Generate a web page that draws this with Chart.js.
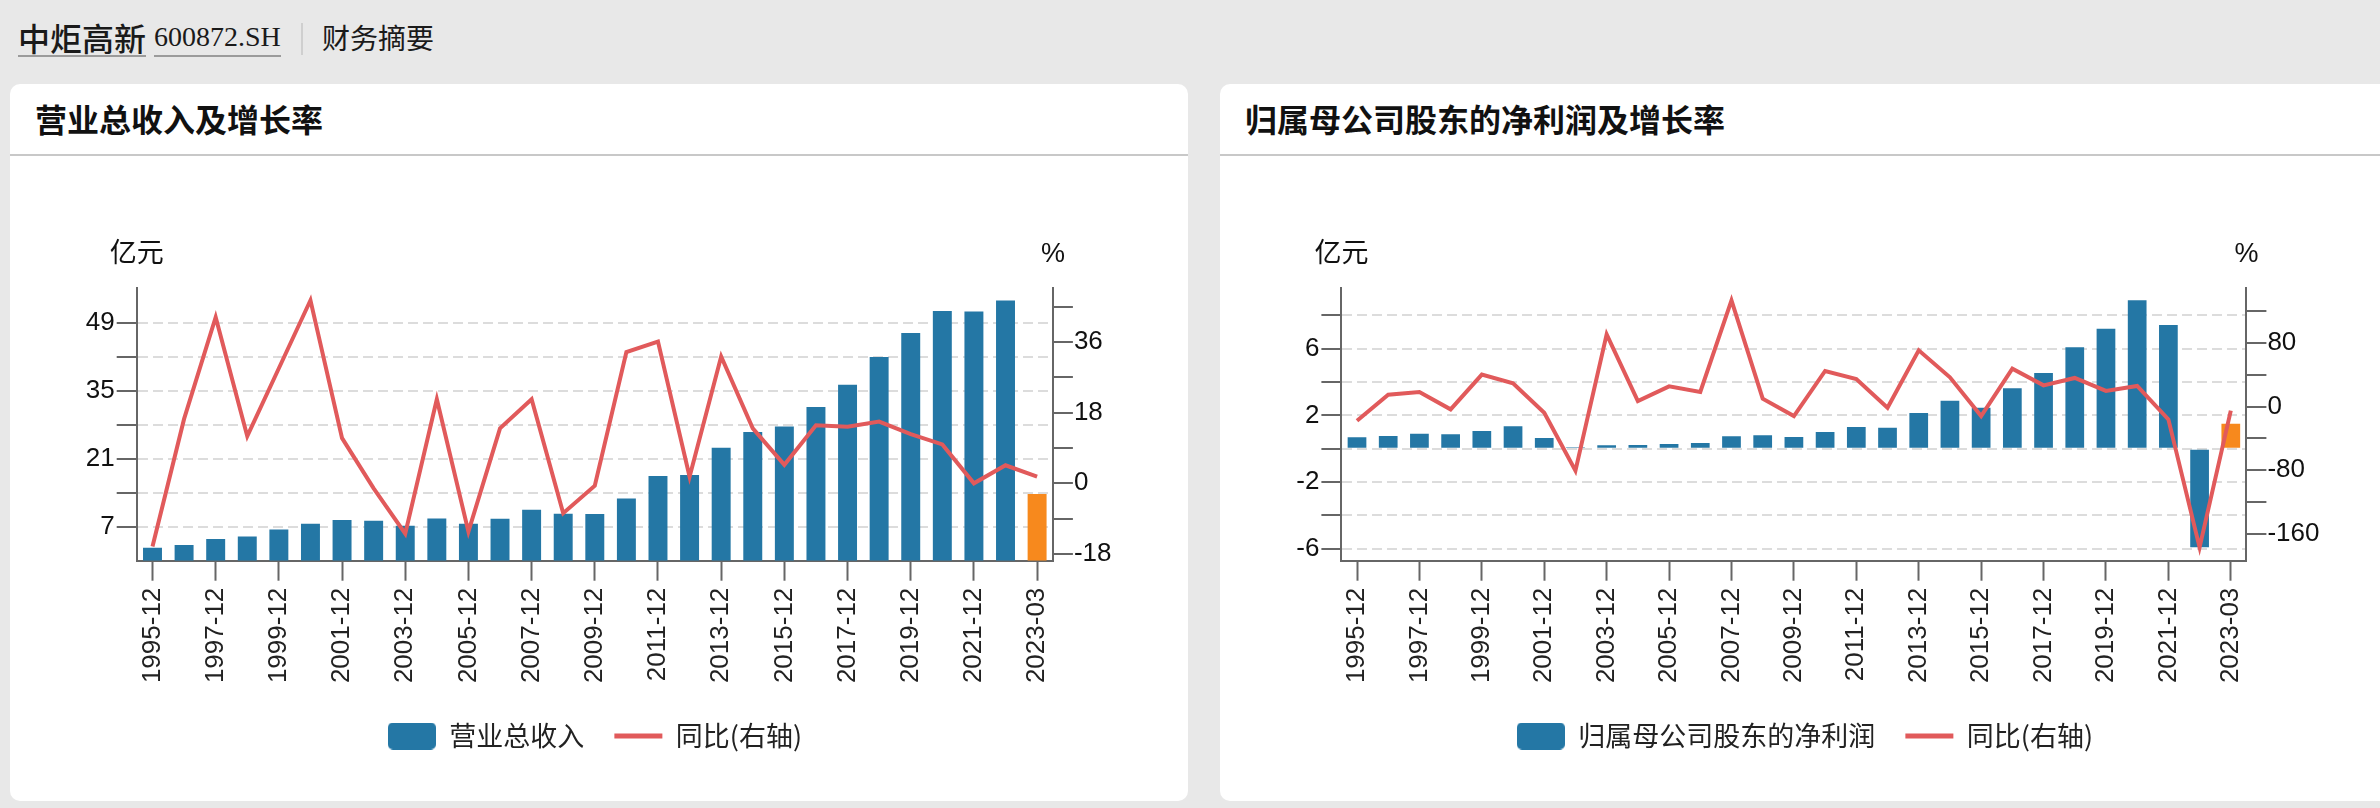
<!DOCTYPE html>
<html lang="zh-CN">
<head>
<meta charset="utf-8">
<title>中炬高新 财务摘要</title>
<script src="https://cdn.jsdelivr.net/npm/chart.js@4.4.1/dist/chart.umd.min.js"></script>
<style>
  html, body { margin: 0; padding: 0; }
  body {
    width: 2380px; height: 808px; overflow: hidden; position: relative;
    background: #e8e8e8; color: #1a1a1a;
    font-family: "Noto Sans CJK SC", "Liberation Sans", sans-serif;
  }
  .hd { position: absolute; top: 19px; height: 36px; line-height: 36px; white-space: nowrap; }
  .name { left: 18px; font-size: 32px; font-weight: 500; border-bottom: 2px solid #9b9b9b; }
  .code { left: 154px; font-size: 28px; font-family: "Liberation Serif", serif; border-bottom: 2px solid #9b9b9b; }
  .sep { position: absolute; left: 301px; top: 23px; width: 2px; height: 32px; background: #cfcfcf; }
  .sub { left: 322px; font-size: 28px; }
  .card { position: absolute; top: 84px; width: 1178px; height: 717px; background: #fff; border-radius: 10px; overflow: hidden; }
  .card h2 { margin: 0; height: 70px; line-height: 68px; padding-left: 25px; font-size: 32px; font-weight: bold; color: #111; border-bottom: 2px solid #c8c8c8; }
  .card canvas { display: block; }
</style>
</head>
<body>
<span class="hd name">中炬高新</span>
<span class="hd code">600872.SH</span>
<div class="sep"></div>
<span class="hd sub">财务摘要</span>

<div class="card" style="left:10px">
  <h2>营业总收入及增长率</h2>
  <canvas id="revenueChart" width="1178" height="645"></canvas>
</div>
<div class="card" style="left:1220px">
  <h2>归属母公司股东的净利润及增长率</h2>
  <canvas id="profitChart" width="1178" height="645"></canvas>
</div>

<script>
const categories = [
  '1995-12', '1996-12', '1997-12', '1998-12', '1999-12', '2000-12', '2001-12', '2002-12',
  '2003-12', '2004-12', '2005-12', '2006-12', '2007-12', '2008-12', '2009-12', '2010-12',
  '2011-12', '2012-12', '2013-12', '2014-12', '2015-12', '2016-12', '2017-12', '2018-12',
  '2019-12', '2020-12', '2021-12', '2022-12', '2023-03'
];

// 营业总收入, 亿元
const revenue = [
  2.67, 3.22, 4.45, 5.0, 6.45, 7.62, 8.37, 8.23, 7.2, 8.72, 7.62, 8.65, 10.5, 9.68, 9.61,
  12.84, 17.45, 17.65, 23.29, 26.52, 27.69, 31.68, 36.28, 41.99, 46.94, 51.47, 51.4, 53.67, 13.73
];
// 同比, %
const revenueYoY = [
  -16.1, 16.4, 42.3, 12.0, 29.3, 46.6, 11.5, -1.3, -12.8, 21.4, -12.3, 14.0, 21.4, -7.6, -0.6,
  33.4, 36.1, 1.7, 32.3, 14.0, 4.7, 14.8, 14.4, 15.7, 12.5, 9.9, 0.0, 4.6, 1.7
];

// 归属母公司股东的净利润, 亿元
const profit = [
  0.68, 0.76, 0.90, 0.86, 1.06, 1.34, 0.64, 0.08, 0.20, 0.22, 0.28, 0.34, 0.74, 0.80, 0.70,
  1.0, 1.30, 1.26, 2.14, 2.88, 2.46, 3.62, 4.54, 6.08, 7.20, 8.90, 7.42, -5.92, 1.50
];
const profitYoY = [
  -17.7, 15.1, 18.5, -3.4, 40.4, 29.4, -7.6, -80.7, 91.2, 7.1, 25.6, 18.5, 134.1, 10.1, -11.8,
  45.0, 34.9, -1.3, 71.0, 37.0, -11.8, 47.9, 26.9, 36.2, 19.8, 26.1, -16.0, -177.4, -5.0
];

const BLUE = '#2477a5';
const ORANGE = '#f7891d';
const RED = '#e15a5b';
const AXIS = '#666';

Chart.defaults.font.family = '"Liberation Sans", "Noto Sans CJK SC", sans-serif';
Chart.defaults.font.size = 26;
Chart.defaults.color = '#111';

// rounded swatch for the bar legend entry
const swatch = document.createElement('canvas');
swatch.width = 48; swatch.height = 27;
(function () {
  const c = swatch.getContext('2d');
  c.fillStyle = BLUE;
  c.beginPath();
  c.roundRect(0, 0, 48, 27, 5);
  c.fill();
})();

// 亿元 / % over the two value axes
const unitLabels = {
  id: 'unitLabels',
  afterDraw(chart) {
    const { ctx, chartArea, scales } = chart;
    ctx.save();
    ctx.font = '27px "Liberation Sans", "Noto Sans CJK SC", sans-serif';
    ctx.fillStyle = '#111';
    ctx.textAlign = 'center';
    ctx.textBaseline = 'middle';
    ctx.fillText('亿元', scales.y.right, chartArea.top - 33);
    ctx.fillText('%', scales.y2.left, chartArea.top - 33);
    ctx.restore();
  }
};

function makeChart(id, o) {
  const ctx = document.getElementById(id).getContext('2d');
  return new Chart(ctx, {
    type: 'bar',
    data: {
      labels: categories,
      datasets: [
        {
          label: o.barLabel,
          data: o.bars,
          yAxisID: 'y',
          backgroundColor: o.bars.map((v, i) => i === o.bars.length - 1 ? ORANGE : BLUE),
          barPercentage: 0.6,
          categoryPercentage: 1,
          order: 2
        },
        {
          type: 'line',
          label: '同比(右轴)',
          data: o.line,
          yAxisID: 'y2',
          borderColor: RED,
          backgroundColor: RED,
          borderWidth: 4,
          pointRadius: 0,
          pointHoverRadius: 0,
          tension: 0,
          fill: false,
          order: 1
        }
      ]
    },
    options: {
      responsive: false,
      animation: false,
      events: [],
      layout: { padding: { top: 131.7, right: 8, bottom: 41.5, left: 0 } },
      plugins: {
        tooltip: { enabled: false },
        legend: {
          position: 'bottom',
          labels: {
            usePointStyle: true,
            pointStyleWidth: 48,
            boxHeight: 27,
            padding: 30,
            color: '#222',
            font: { size: 27, family: '"Noto Sans CJK SC", "Liberation Sans", sans-serif' },
            generateLabels: chart => {
              const items = Chart.defaults.plugins.legend.labels.generateLabels(chart);
              items.sort((a, b) => a.datasetIndex - b.datasetIndex);
              items.forEach(item => {
                if (item.datasetIndex === 0) {
                  item.pointStyle = swatch;
                  item.lineWidth = 0;
                } else {
                  item.pointStyle = 'line';
                  item.strokeStyle = RED;
                  item.lineWidth = 5;
                }
              });
              return items;
            }
          }
        }
      },
      scales: {
        x: {
          offset: true,
          afterFit: s => { s.height = 131.8; },
          grid: {
            offset: false,
            drawOnChartArea: false,
            tickLength: 20,
            tickWidth: 2,
            tickColor: c => c.index % 2 === 0 ? AXIS : 'rgba(0,0,0,0)'
          },
          border: { color: AXIS, width: 2 },
          ticks: {
            autoSkip: false,
            minRotation: 90,
            maxRotation: 90,
            padding: 7,
            color: '#222',
            callback: (v, i) => i % 2 === 0 ? categories[i] : ''
          }
        },
        y: {
          position: 'left',
          min: o.y.min,
          max: o.y.max,
          afterFit: s => { s.width = o.y.width; },
          afterBuildTicks: s => {
            if (o.y.filter) s.ticks = s.ticks.filter(o.y.filter);
          },
          grid: {
            color: '#dcdcdc',
            lineWidth: 2,
            tickLength: 20,
            tickWidth: 2,
            tickColor: AXIS
          },
          border: { color: AXIS, width: 2, dash: [10, 5] },
          ticks: {
            stepSize: o.y.step,
            includeBounds: false,
            autoSkip: false,
            padding: 2,
            callback: v => Math.abs(Math.round(v / o.y.step)) % 2 === 1 ? v : ''
          }
        },
        y2: {
          position: 'right',
          min: o.y2.min,
          max: o.y2.max,
          afterFit: s => { s.width = o.y2.width; },
          grid: {
            drawOnChartArea: false,
            lineWidth: 2,
            tickLength: 20,
            tickWidth: 2,
            tickColor: AXIS
          },
          border: { color: AXIS, width: 2 },
          ticks: {
            stepSize: o.y2.step,
            includeBounds: false,
            autoSkip: false,
            padding: 1,
            callback: v => Math.round(v / o.y2.step) % 2 === 0 ? v : ''
          }
        }
      }
    },
    plugins: [unitLabels]
  });
}

makeChart('revenueChart', {
  barLabel: '营业总收入',
  bars: revenue,
  line: revenueYoY,
  y: { min: 0, max: 56.3, step: 7, width: 126.7, filter: t => t.value > 0 && t.value < 56 },
  y2: { min: -19.7, max: 49.8, step: 9, width: 127.1 }
});

makeChart('profitChart', {
  barLabel: '归属母公司股东的净利润',
  bars: profit,
  line: profitYoY,
  y: { min: -6.72, max: 9.66, step: 2, width: 121.4 },
  y2: { min: -194.2, max: 150, step: 40, width: 143.6 }
});
</script>
</body>
</html>
